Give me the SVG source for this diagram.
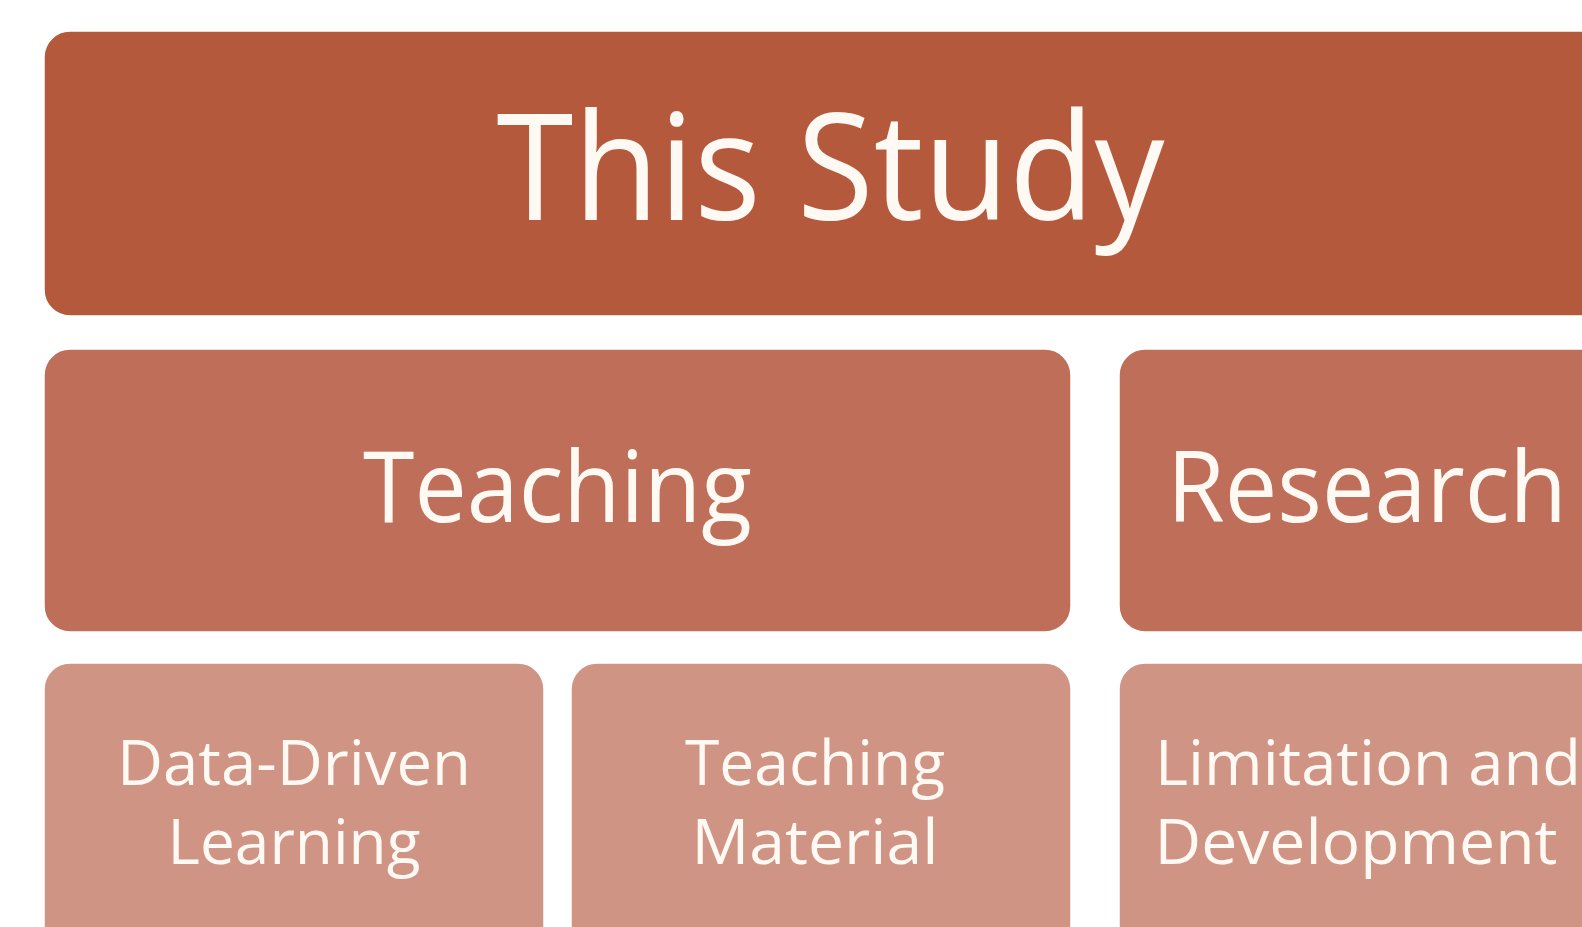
<svg xmlns="http://www.w3.org/2000/svg" width="1582" height="927" viewBox="0 0 1582 927">
  <style>
    .box { stroke: #ffffff; stroke-width: 1.5; }
    .l1 { fill: #B5593D; }
    .l2 { fill: #BE6E59; }
    .l3 { fill: #D09485; }
    .lbl { font-family: "Open Sans", "Noto Sans", "Liberation Sans", sans-serif; fill: #FFF9F4; text-anchor: middle; font-variant-ligatures: none; }
    .t1 { font-size: 148px; }
    .t2 { font-size: 99px; }
    .t3 { font-size: 63px; }
  </style>
  <rect width="1582" height="927" fill="#ffffff"/>

  <!-- top level -->
  <g id="this-study">
    <rect class="box l1" x="44" y="31" width="1573" height="285" rx="26"/>
    <text class="lbl t1" x="830.5" y="220" textLength="668" lengthAdjust="spacingAndGlyphs">This Study</text>
  </g>

  <!-- second level -->
  <g id="teaching">
    <rect class="box l2" x="44" y="349" width="1027" height="283" rx="26"/>
    <text class="lbl t2" x="557.5" y="522" textLength="389" lengthAdjust="spacingAndGlyphs">Teaching</text>
  </g>
  <g id="research">
    <rect class="box l2" x="1119" y="349" width="500" height="283" rx="26"/>
    <text class="lbl t2" x="1367" y="522" textLength="400" lengthAdjust="spacingAndGlyphs">Research</text>
  </g>

  <!-- third level -->
  <g id="data-driven-learning">
    <rect class="box l3" x="44" y="663" width="500" height="290" rx="26"/>
    <text class="lbl t3" x="294" y="785" textLength="354" lengthAdjust="spacingAndGlyphs">Data-Driven</text>
    <text class="lbl t3" x="294" y="864" textLength="253" lengthAdjust="spacingAndGlyphs">Learning</text>
  </g>
  <g id="teaching-material">
    <rect class="box l3" x="571" y="663" width="500" height="290" rx="26"/>
    <text class="lbl t3" x="815" y="785" textLength="260" lengthAdjust="spacingAndGlyphs">Teaching</text>
    <text class="lbl t3" x="815" y="864" textLength="247" lengthAdjust="spacingAndGlyphs">Material</text>
  </g>
  <g id="limitation-and-development">
    <rect class="box l3" x="1119" y="663" width="500" height="290" rx="26"/>
    <text class="lbl t3" x="1368" y="785" textLength="426" lengthAdjust="spacingAndGlyphs">Limitation and</text>
    <text class="lbl t3" x="1356" y="864" textLength="403" lengthAdjust="spacingAndGlyphs">Development</text>
  </g>

  <g id="connectors"></g>
</svg>
